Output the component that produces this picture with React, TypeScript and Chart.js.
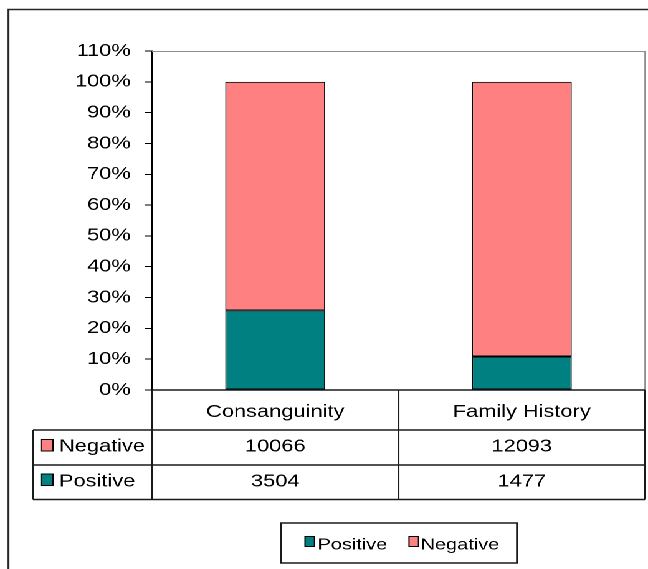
import React, { useEffect, useRef } from 'react';
import { Chart, registerables } from 'chart.js';

Chart.register(...registerables);

// ---- data ----
const categories = ['Consanguinity', 'Family History'];
const seriesNames = ['Positive', 'Negative'];
const positiveCounts = [3504, 1477];
const negativeCounts = [10066, 12093];
const seriesColors = ['#008080', '#FF8080'];
const yMax = 110;
const yStep = 10;

// ---- layout (reference is horizontally stretched; we draw in a narrower space and scale X) ----
const REF_W = 648;
const W = 520;
const H = 569;
const SX = REF_W / W;
const rx = (x: number) => x / SX;
const FONT = '"Liberation Sans", Arial, sans-serif';

const totals = categories.map((_, i) => positiveCounts[i] + negativeCounts[i]);
const positivePct = positiveCounts.map((v, i) => (v / totals[i]) * 100);
const negativePct = negativeCounts.map((v, i) => (v / totals[i]) * 100);

const excelPlugin = {
  id: 'excelDecor',
  afterDraw(chart: any) {
    const ctx = chart.ctx as CanvasRenderingContext2D;
    const area = chart.chartArea;
    const xs = chart.scales.x;
    const L = area.left;
    const R = area.right;
    const B = area.bottom;
    const centers = categories.map((_, i) => xs.getPixelForValue(i));
    const mid = (centers[0] + centers[1]) / 2;
    const tableLeft = rx(33);
    const tableBottom = 499.5;

    ctx.save();
    // outer chart border
    ctx.strokeStyle = '#262626';
    ctx.lineWidth = 1.5;
    ctx.beginPath();
    ctx.moveTo(rx(8.5), H + 5);
    ctx.lineTo(rx(8.5), 9.5);
    ctx.lineTo(W + 5, 9.5);
    ctx.stroke();

    // plot area border (top/right)
    ctx.strokeStyle = '#8c8c8c';
    ctx.lineWidth = 1;
    ctx.beginPath();
    ctx.moveTo(L, area.top + 0.5);
    ctx.lineTo(R, area.top + 0.5);
    ctx.lineTo(R, B);
    ctx.stroke();

    // data table grid
    ctx.strokeStyle = '#1a1a1a';
    ctx.lineWidth = 1.5;
    ctx.beginPath();
    ctx.moveTo(L, B);
    ctx.lineTo(R, B);
    for (const y of [430, 465, tableBottom]) {
      ctx.moveTo(tableLeft, y);
      ctx.lineTo(R, y);
    }
    ctx.moveTo(tableLeft, 430);
    ctx.lineTo(tableLeft, tableBottom);
    ctx.moveTo(L, B);
    ctx.lineTo(L, tableBottom);
    ctx.moveTo(mid, B);
    ctx.lineTo(mid, tableBottom);
    ctx.moveTo(R, B);
    ctx.lineTo(R, tableBottom);
    ctx.stroke();

    // table texts
    ctx.fillStyle = '#000';
    ctx.textAlign = 'center';
    ctx.textBaseline = 'alphabetic';
    ctx.font = `17.5px ${FONT}`;
    categories.forEach((c, i) => ctx.fillText(c, centers[i], 417));
    negativeCounts.forEach((v, i) => ctx.fillText(String(v), centers[i], 451.5));
    positiveCounts.forEach((v, i) => ctx.fillText(String(v), centers[i], 486.5));

    // row headers with keys
    const rows = [
      { name: seriesNames[1], color: seriesColors[1], base: 451.5, sqTop: 439.5 },
      { name: seriesNames[0], color: seriesColors[0], base: 486.5, sqTop: 474 },
    ];
    ctx.textAlign = 'left';
    rows.forEach((r) => {
      ctx.fillStyle = r.color;
      ctx.fillRect(rx(41), r.sqTop, rx(12), 11.5);
      ctx.strokeStyle = '#000';
      ctx.lineWidth = 1;
      ctx.strokeRect(rx(41), r.sqTop, rx(12), 11.5);
      ctx.fillStyle = '#000';
      ctx.fillText(r.name, rx(59), r.base);
    });

    // legend box
    ctx.strokeStyle = '#1a1a1a';
    ctx.lineWidth = 1.5;
    ctx.strokeRect(rx(281), 523, rx(517 - 281), 40);
    ctx.font = `16px ${FONT}`;
    const legendItems = [
      { name: seriesNames[0], color: seriesColors[0], sq: 305, tx: 317.5 },
      { name: seriesNames[1], color: seriesColors[1], sq: 409, tx: 420.5 },
    ];
    legendItems.forEach((it) => {
      ctx.fillStyle = it.color;
      ctx.fillRect(rx(it.sq), 536.5, rx(9.5), 10);
      ctx.strokeStyle = '#000';
      ctx.lineWidth = 1;
      ctx.strokeRect(rx(it.sq), 536.5, rx(9.5), 10);
      ctx.fillStyle = '#000';
      ctx.fillText(it.name, rx(it.tx), 549.5);
    });
    ctx.restore();
  },
};

export default function App() {
  const ref = useRef<HTMLCanvasElement>(null);

  useEffect(() => {
    const chart = new Chart(ref.current as HTMLCanvasElement, {
      type: 'bar',
      data: {
        labels: categories,
        datasets: [
          {
            label: seriesNames[0],
            data: positivePct,
            backgroundColor: seriesColors[0],
            borderColor: '#000',
            borderWidth: 1,
            borderSkipped: false,
            barPercentage: 0.406,
            categoryPercentage: 1,
          },
          {
            label: seriesNames[1],
            data: negativePct,
            backgroundColor: seriesColors[1],
            borderColor: '#000',
            borderWidth: 1,
            borderSkipped: false,
            barPercentage: 0.406,
            categoryPercentage: 1,
          },
        ],
      },
      options: {
        responsive: false,
        animation: false,
        devicePixelRatio: 2,
        layout: { padding: { left: 0, top: 51, right: rx(3), bottom: H - 390 } },
        plugins: { legend: { display: false }, tooltip: { enabled: false } },
        scales: {
          x: { stacked: true, display: false },
          y: {
            stacked: true,
            min: 0,
            max: yMax,
            afterFit: (s: any) => {
              s.width = rx(152);
            },
            ticks: {
              stepSize: yStep,
              callback: (v: any) => `${v}%`,
              color: '#000',
              font: { family: FONT, size: 17.5 },
              padding: 11,
            },
            grid: { drawOnChartArea: false, drawTicks: true, tickLength: 6, color: '#000' },
            border: { display: true, color: '#000', width: 1 },
          },
        },
      },
      plugins: [excelPlugin],
    } as any);
    return () => chart.destroy();
  }, []);

  return (
    <div
      style={{
        position: 'absolute',
        left: 0,
        top: 0,
        width: W,
        height: H,
        transform: `scaleX(${SX})`,
        transformOrigin: '0 0',
        background: '#fff',
      }}
    >
      <canvas ref={ref} width={W} height={H} style={{ width: W, height: H, display: 'block' }} />
    </div>
  );
}
